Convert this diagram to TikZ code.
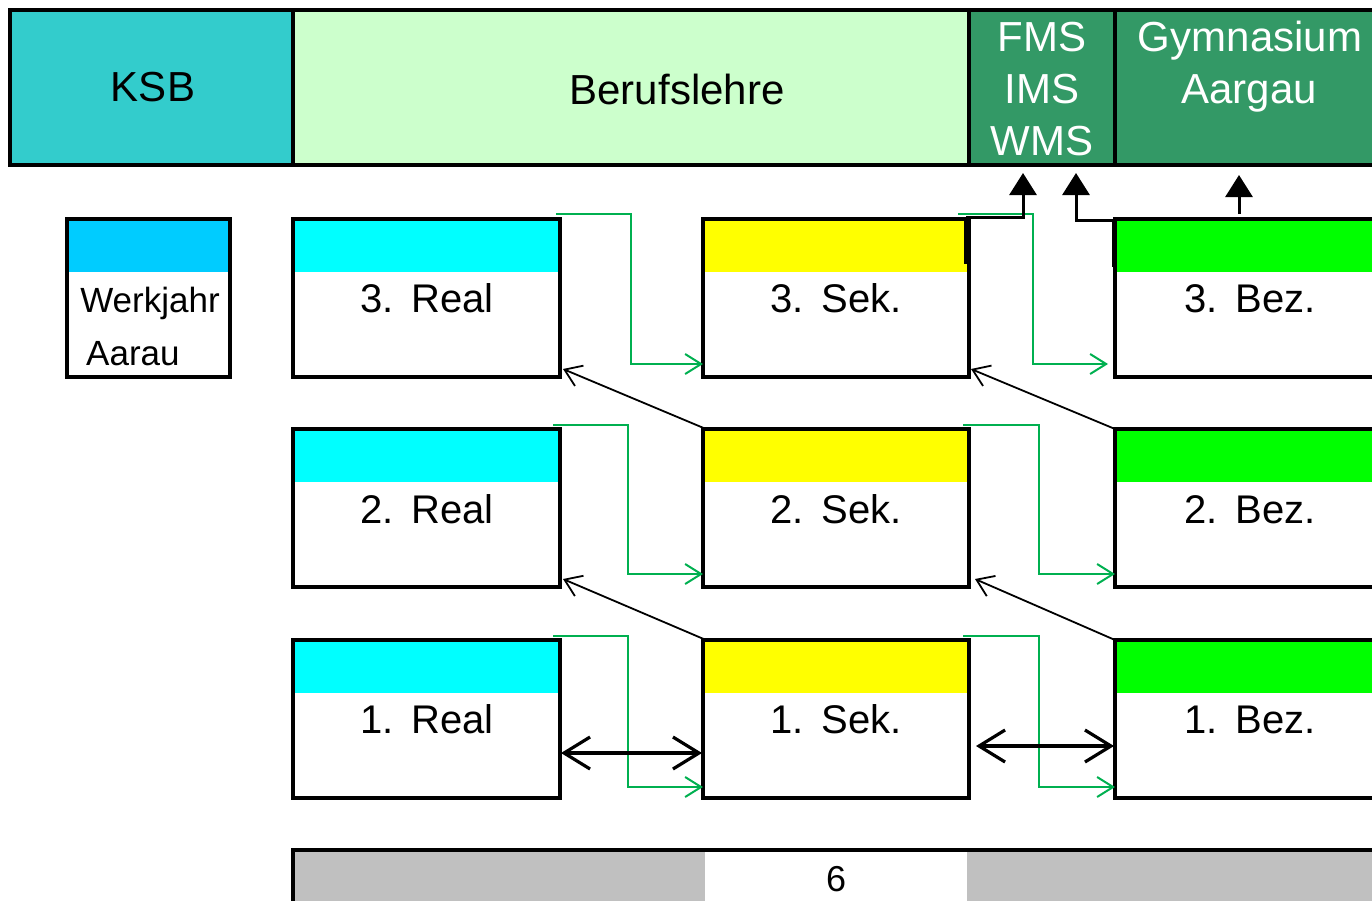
\documentclass[tikz,border=0pt]{standalone}
\usepackage{fontspec}
\setmainfont{Liberation Sans}
\usetikzlibrary{arrows.meta,calc}
\definecolor{ksbc}{HTML}{33CCCC}
\definecolor{berc}{HTML}{CCFFCC}
\definecolor{darkg}{HTML}{339966}
\definecolor{cyanc}{HTML}{00FFFF}
\definecolor{wkc}{HTML}{00CCFF}
\definecolor{yelc}{HTML}{FFFF00}
\definecolor{grnc}{HTML}{00FF00}
\definecolor{grayc}{HTML}{C0C0C0}
\definecolor{connc}{HTML}{00B050}
\begin{document}
\begin{tikzpicture}[x=1pt,y=-1pt,
  topcell/.style={draw=black,line width=4pt,minimum height=155pt,anchor=north west,inner sep=0pt,outer sep=0pt},
  bigtxt/.style={font=\fontsize{42}{50}\selectfont,anchor=base,inner sep=0pt},
  boxtxt/.style={font=\fontsize{40}{48}\selectfont,anchor=base,inner sep=0pt},
  smalltxt/.style={font=\fontsize{35}{42}\selectfont,inner sep=0pt},
  classbox/.style={draw=black,line width=4pt,minimum width=267pt,minimum height=158pt,anchor=north west,inner sep=0pt,outer sep=0pt,fill=white,
    path picture={\fill[#1] (path picture bounding box.north west) rectangle ([yshift=-53pt]path picture bounding box.north east);}},
  gconn/.style={draw=connc,line width=2pt,-{Straight Barb[length=16pt,width=20pt]}},
  diag/.style={draw=black,line width=1.8pt,-{Straight Barb[length=16pt,width=22pt]}},
  dbl/.style={draw=black,line width=3.2pt,{Straight Barb[length=26pt,width=32pt]}-{Straight Barb[length=26pt,width=32pt]}},
  uparrow/.style={draw=black,line width=3pt,-{Triangle[length=22pt,width=27pt]}}
]
\useasboundingbox (0,0) rectangle (1372,900);
\clip (0,0) rectangle (1372,900);
\fill[white] (0,0) rectangle (1372,900);

% top bar
\node[topcell,fill=ksbc,minimum width=283pt] (ksb) at (10,10) {};
\node[topcell,fill=berc,minimum width=676pt] (ber) at (293,10) {};
\node[topcell,fill=darkg,minimum width=146pt] (fms) at (969,10) {};
\node[topcell,fill=darkg,minimum width=275pt] (gym) at (1115,10) {};
\node[bigtxt] (ksbt) at (153,101) {KSB};
\node[bigtxt] (bert) at (677,104) {Berufslehre};
\node[bigtxt,text=white] (fms1) at (1042,51) {FMS};
\node[bigtxt,text=white] (fms2) at (1042,103) {IMS};
\node[bigtxt,text=white] (fms3) at (1042,155) {WMS};
\node[bigtxt,text=white] (gym1) at (1250,51) {Gymnasium};
\node[bigtxt,text=white] (gym2) at (1249,103) {Aargau};

% Werkjahr
\node[classbox=wkc,minimum width=163pt] (wk) at (67,219) {};
\node[smalltxt,anchor=base] (wkt1) at (150,312) {Werkjahr};
\node[smalltxt,anchor=base west] (wkt2) at (86,365) {Aarau};

% class boxes
\node[classbox=cyanc] (r3) at (293,219) {};
\node[classbox=cyanc] (r2) at (293,429) {};
\node[classbox=cyanc] (r1) at (293,640) {};
\node[classbox=yelc,minimum width=266pt] (s3) at (703,219) {};
\node[classbox=yelc,minimum width=266pt] (s2) at (703,429) {};
\node[classbox=yelc,minimum width=266pt] (s1) at (703,640) {};
\node[classbox=grnc,minimum width=280pt] (b3) at (1115,219) {};
\node[classbox=grnc,minimum width=280pt] (b2) at (1115,429) {};
\node[classbox=grnc,minimum width=280pt] (b1) at (1115,640) {};

\node[boxtxt] (r3t) at (427,312) {3.\hspace{0.45em}Real};
\node[boxtxt] (r2t) at (427,523) {2.\hspace{0.45em}Real};
\node[boxtxt] (r1t) at (427,733) {1.\hspace{0.45em}Real};
\node[boxtxt] (s3t) at (836,312) {3.\hspace{0.45em}Sek.};
\node[boxtxt] (s2t) at (836,523) {2.\hspace{0.45em}Sek.};
\node[boxtxt] (s1t) at (836,733) {1.\hspace{0.45em}Sek.};
\node[boxtxt] (b3t) at (1250,312) {3.\hspace{0.45em}Bez.};
\node[boxtxt] (b2t) at (1250,523) {2.\hspace{0.45em}Bez.};
\node[boxtxt] (b1t) at (1250,733) {1.\hspace{0.45em}Bez.};

% green connectors
\draw[gconn] ($(r3.north east)+(-4,-5)$) -- ++(75,0) |- ($(s3.south west)+(0,-13)$);
\draw[gconn] ($(r2.north east)+(-7,-4)$) -- ++(75,0) |- ($(s2.south west)+(0,-13)$);
\draw[gconn] ($(r1.north east)+(-7,-4)$) -- ++(75,0) |- ($(s1.south west)+(0,-11)$);
\draw[gconn] ($(s3.north east)+(-11,-5)$) -- ++(75,0) |- ($(b3.south west)+(-7,-13)$);
\draw[gconn] ($(s2.north east)+(-6,-4)$) -- ++(76,0) |- ($(b2.south west)+(0,-13)$);
\draw[gconn] ($(s1.north east)+(-6,-4)$) -- ++(76,0) |- ($(b1.south west)+(0,-11)$);

% diagonal arrows
\draw[diag] ($(s2.north west)+(3,0)$) -- ($(r3.south east)+(3,-8)$);
\draw[diag] (b2.north west) -- ($(s3.south east)+(2,-8)$);
\draw[diag] ($(s1.north west)+(3,0)$) -- ($(r2.south east)+(3,-8)$);
\draw[diag] (b1.north west) -- ($(s2.south east)+(6,-8)$);

% double arrows
\draw[dbl] ($(r1.south east)+(1,-45)$) -- ($(s1.south west)+(-1,-45)$);
\draw[dbl] ($(s1.south east)+(7,-52)$) -- ($(b1.south west)+(-1,-52)$);

% up arrows
\draw[line width=3.5pt] ($(s3.north east)+(-3,0)$) -- ($(s3.north east)+(-3,45)$);
\draw[uparrow] ($(s3.north east)+(-3,-2)$) -| ($(fms.south)+(-19,8)$);
\draw[line width=3.5pt] ($(b3.north west)+(-1,0)$) -- ($(b3.north west)+(-1,48)$);
\draw[uparrow] ($(b3.north west)+(-1,1)$) -| ($(fms.south)+(34,8)$);
\draw[uparrow] ($(b3.north west)+(124,-5)$) -- ($(gym.south west)+(124,10)$);

% bottom bar
\fill[grayc] (293,850) rectangle (705,905);
\fill[grayc] (967,850) rectangle (1380,905);
\draw[line width=4pt] (293,905) -- (293,850) -- (1380,850);
\node[font=\fontsize{36}{43}\selectfont,anchor=base,inner sep=0pt] (six) at (836,891) {6};
\end{tikzpicture}
\end{document}
